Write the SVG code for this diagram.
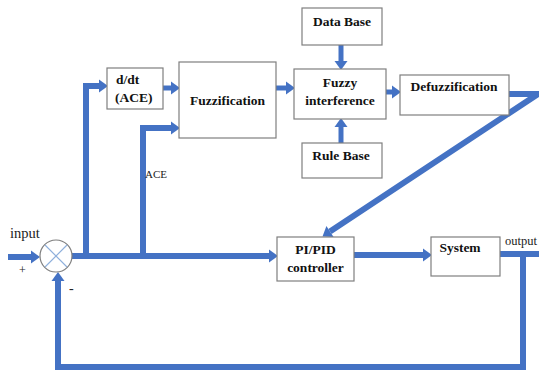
<svg xmlns="http://www.w3.org/2000/svg" width="539" height="370" viewBox="0 0 539 370">
<style>
.box{fill:#fff;stroke:#7f7f7f;stroke-width:1.2}
.t{font-family:"Liberation Serif","Times New Roman",serif;font-weight:bold;font-size:13.5px;fill:#111}
.r{font-family:"Liberation Serif","Times New Roman",serif;font-size:12px;fill:#222}
.w{fill:none;stroke:#4472C4;stroke-width:6;stroke-linejoin:miter}
.a{marker-end:url(#ah)}
</style>
<defs>
<marker id="ah" markerUnits="userSpaceOnUse" markerWidth="9" markerHeight="13" refX="0" refY="6.5" orient="auto" overflow="visible">
<path d="M0,0 L9,6.5 L0,13 Z" fill="#4472C4"/>
</marker>
</defs>
<rect width="539" height="370" fill="#fff"/>
<g id="connectors">
<path class="w a" d="M8,257 L31,257"/>
<path class="w a" d="M72,256 L269,256"/>
<path class="w a" d="M86,258 L86,86 L99,86"/>
<path class="w a" d="M143,258 L143,128 L171,128"/>
<path class="w a" style="stroke-width:5" d="M163,88 L171,88"/>
<path class="w a" style="stroke-width:5" d="M276,88 L286,88"/>
<path class="w a" style="stroke-width:5" d="M386,92 L392,92"/>
<path class="w a" style="stroke-width:5" d="M341,45 L341,61"/>
<path class="w a" style="stroke-width:5" d="M341,143 L341,127"/>
<path class="w a" d="M509,94 L538,94 L330,231.5"/>
<path class="w a" d="M354,255 L423,255"/>
<path class="w" d="M500,254 L539,254"/>
<path class="w a" d="M523,254 L523,367 L58,367 L58,281"/>
</g>
<g id="sum">
<circle cx="56" cy="256" r="16" fill="#fff" stroke="#7f7f7f" stroke-width="1.2"/>
<path d="M45,245 L67,267 M67,245 L45,267" stroke="#8fb0dc" stroke-width="1.2"/>
</g>
<g id="ddt">
<rect class="box" x="107" y="68" width="56" height="41"/>
<text class="t" x="116" y="84">d/dt</text>
<text class="t" x="115" y="102">(ACE)</text>
</g>
<g id="fuzzification">
<rect class="box" x="179" y="62" width="97" height="76"/>
<text class="t" x="227.5" y="105" text-anchor="middle">Fuzzification</text>
</g>
<g id="database">
<rect class="box" x="302" y="8" width="80" height="37"/>
<text class="t" x="342" y="26" text-anchor="middle">Data Base</text>
</g>
<g id="inference">
<rect class="box" x="294" y="69" width="92" height="50"/>
<text class="t" x="340" y="87" text-anchor="middle">Fuzzy</text>
<text class="t" x="340" y="105" text-anchor="middle">interference</text>
</g>
<g id="rulebase">
<rect class="box" x="302" y="143" width="80" height="35"/>
<text class="t" x="341" y="160" text-anchor="middle">Rule Base</text>
</g>
<g id="defuzzification">
<rect class="box" x="400" y="75" width="109" height="40"/>
<text class="t" x="454" y="91" text-anchor="middle">Defuzzification</text>
</g>
<g id="pid">
<rect class="box" x="277" y="237" width="77" height="44"/>
<text class="t" x="315.5" y="254" text-anchor="middle">PI/PID</text>
<text class="t" x="315.5" y="272" text-anchor="middle">controller</text>
</g>
<g id="system">
<rect class="box" x="431" y="237" width="69" height="39"/>
<text class="t" x="460" y="252" text-anchor="middle">System</text>
</g>
<g id="labels">
<text class="r" x="10" y="238" style="font-size:14.5px">input</text>
<text class="r" x="19" y="274" style="font-size:12px">+</text>
<text class="r" x="69" y="293" style="font-size:14px">-</text>
<text class="r" x="145" y="178" style="font-size:11px">ACE</text>
<text class="r" x="505" y="245" style="font-size:12.5px">output</text>
</g>
</svg>
